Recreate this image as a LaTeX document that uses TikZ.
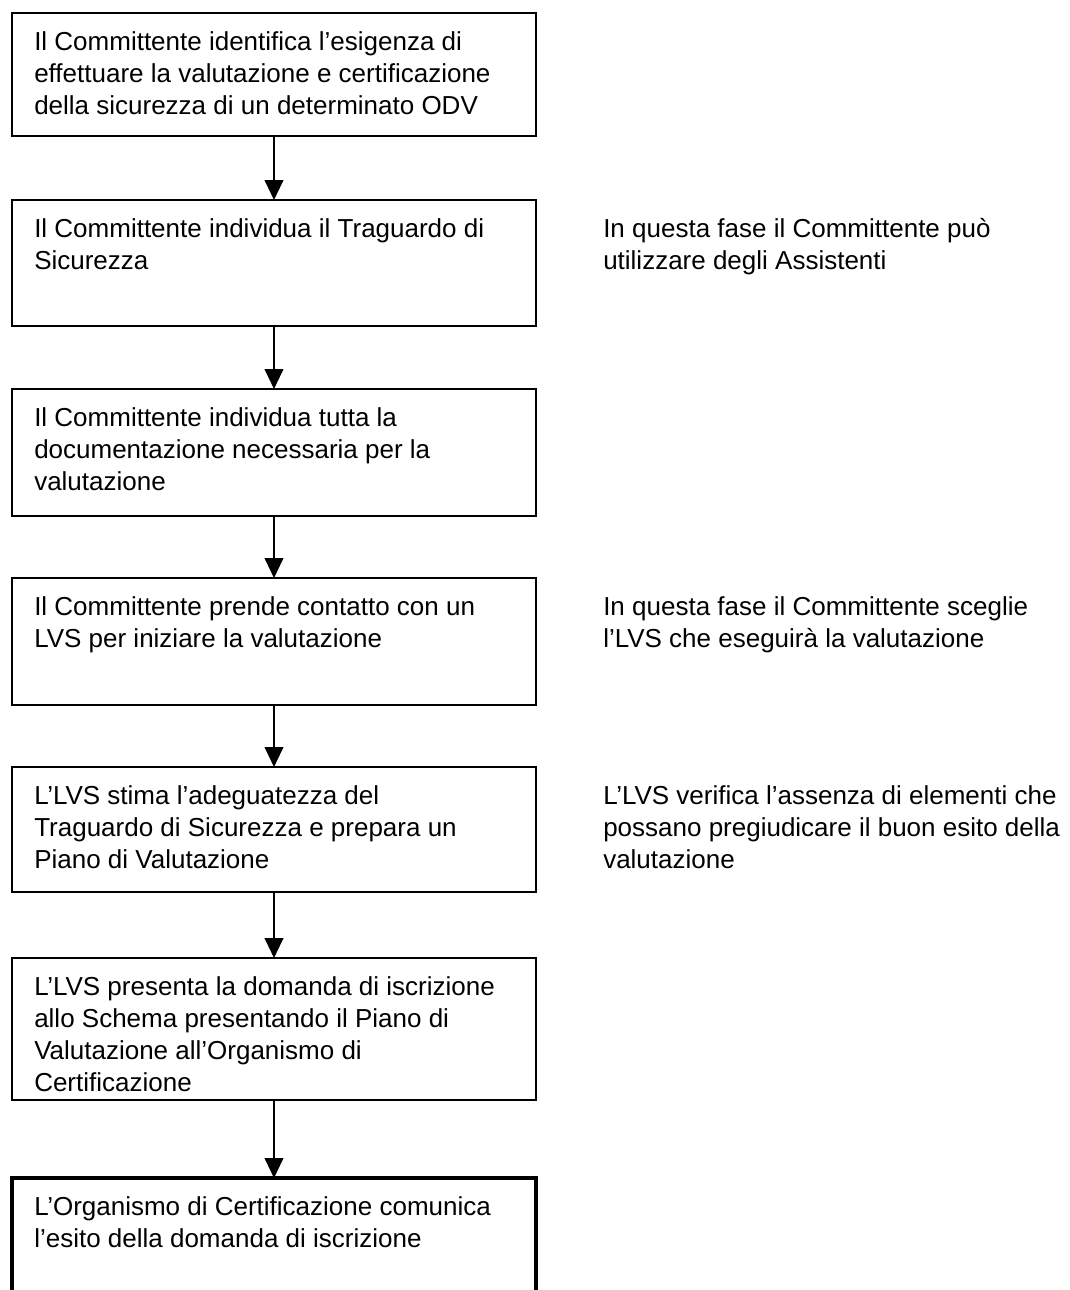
\documentclass[tikz,border=0pt]{standalone}
\usepackage{fontspec}
\setmainfont{Liberation Sans}
\usetikzlibrary{arrows.meta}
\begin{document}
\begin{tikzpicture}[x=0.75pt,y=-0.75pt,
  box/.style={draw=black, line width=1.5pt, minimum width=393pt, inner sep=0pt, outer sep=0pt},
  lastbox/.style={box, line width=3pt},
  boxtext/.style={anchor=north west, inner sep=0pt, align=left, font=\fontsize{19.5pt}{24pt}\selectfont},
  note/.style={boxtext},
  flow/.style={line width=1.5pt, -{Triangle[width=14pt,length=15pt]}}]
\useasboundingbox (0,0) rectangle (1070,1290);
\clip (0,0) rectangle (1070,1290);
% boxes (centre x 274, from x=12 to x=536)
\node[box, minimum height=92.25pt] (b1) at (274,74.5) {};
\node[box, minimum height=94.5pt] (b2) at (274,263) {};
\node[box, minimum height=95.25pt] (b3) at (274,452.5) {};
\node[box, minimum height=95.25pt] (b4) at (274,641.5) {};
\node[box, minimum height=93.75pt] (b5) at (274,829.5) {};
\node[box, minimum height=106.5pt] (b6) at (274,1029) {};
\node[lastbox, minimum height=97.5pt] (b7) at (274,1243) {};
% texts
\node[boxtext] (t1) at (34,31) {Il Committente identifica l’esigenza di\\effettuare la valutazione e certificazione\\della sicurezza di un determinato ODV};
\node[boxtext] (t2) at (34,218) {Il Committente individua il Traguardo di\\Sicurezza};
\node[boxtext] (t3) at (34,407) {Il Committente individua tutta la\\documentazione necessaria per la\\valutazione};
\node[boxtext] (t4) at (34,596) {Il Committente prende contatto con un\\LVS per iniziare la valutazione};
\node[boxtext] (t5) at (34,785) {L’LVS stima l’adeguatezza del\\Traguardo di Sicurezza e prepara un\\Piano di Valutazione};
\node[boxtext] (t6) at (34,976) {L’LVS presenta la domanda di iscrizione\\allo Schema presentando il Piano di\\Valutazione all’Organismo di\\Certificazione};
\node[boxtext] (t7) at (34,1196) {L’Organismo di Certificazione comunica\\l’esito della domanda di iscrizione};
% side notes
\node[note] (n2) at (603,218) {In questa fase il Committente può\\utilizzare degli Assistenti};
\node[note] (n4) at (603,596) {In questa fase il Committente sceglie\\l’LVS che eseguirà la valutazione};
\node[note] (n5) at (603,785) {L’LVS verifica l’assenza di elementi che\\possano pregiudicare il buon esito della\\valutazione};
% arrows
\draw[flow] (b1) -- (b2);
\draw[flow] (b2) -- (b3);
\draw[flow] (b3) -- (b4);
\draw[flow] (b4) -- (b5);
\draw[flow] (b5) -- (b6);
\draw[flow] (b6) -- (b7);
\end{tikzpicture}
\end{document}
